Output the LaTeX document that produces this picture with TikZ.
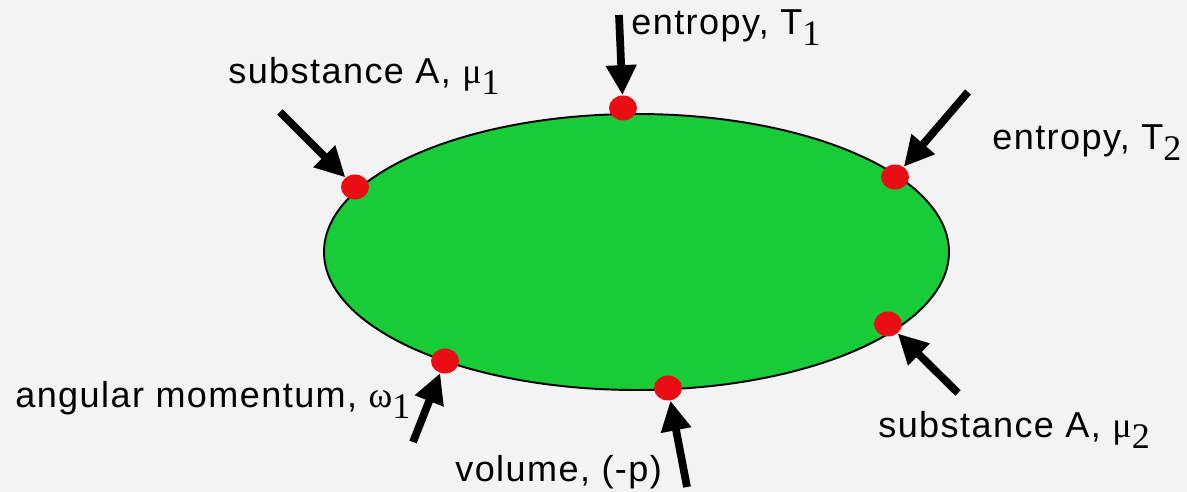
\documentclass[tikz,border=0pt]{standalone}
\usepackage{amsmath}
\usepackage[no-math]{fontspec}
\newfontfamily\labelfont[LetterSpace=4]{Liberation Sans}
\newfontfamily\greekfont{Liberation Serif}
\usepackage{tikz}
\usetikzlibrary{arrows.meta,shapes.geometric}
\definecolor{bgrey}{RGB}{243,243,243}
\definecolor{bodygreen}{RGB}{24,204,56}
\definecolor{portred}{RGB}{234,14,20}
\newcommand\lowidx[1]{\raisebox{-6pt}{\greekfont #1}}
\tikzset{
  body/.style      = {draw=black, line width=1.1pt, fill=bodygreen},
  port/.style      = {ellipse, fill=portred, inner sep=0pt,
                      minimum width=0.56cm, minimum height=0.5cm},
  flow/.style      = {-{Triangle[length=0.6cm,width=0.58cm]}, line width=4.4pt},
  plabel/.style    = {anchor=base west, inner sep=0pt,
                      font=\labelfont\fontsize{20.5}{24}\selectfont},
}

\begin{document}
\begin{tikzpicture}[x=0.02cm, y=-0.02cm]
  \fill[bgrey] (0,0) rectangle (1187,492);
  \useasboundingbox (0,0) rectangle (1187,492);

  % the system
  \draw[body] (636.5,252) ellipse [x radius=312.5, y radius=138];

  % contact points
  \node[port] (subA1) at (355,187) {};
  \node[port] (entT1) at (623,108) {};
  \node[port] (entT2) at (895,177) {};
  \node[port] (subA2) at (888,324) {};
  \node[port] (vol)   at (668,388) {};
  \node[port] (ang)   at (445,361) {};

  % tails of the currents
  \coordinate (subA1in) at (280,112);
  \coordinate (entT1in) at (619,15);
  \coordinate (entT2in) at (968,92);
  \coordinate (subA2in) at (958,393);
  \coordinate (volin)   at (687,487);
  \coordinate (angin)   at (413,442);

  \draw[flow] (subA1in) -- (subA1);
  \draw[flow] (entT1in) -- (entT1);
  \draw[flow] (entT2in) -- (entT2);
  \draw[flow] (subA2in) -- (subA2);
  \draw[flow] (volin)   -- (vol);
  \draw[flow] (angin)   -- (ang);

  % labels
  \node[plabel] (lsubA1) at (228,84)  {substance A, {\greekfont μ}\lowidx{1}};
  \node[plabel] (lentT1) at (631,35)  {entropy, T\lowidx{1}};
  \node[plabel] (lentT2) at (992,150) {entropy, T\lowidx{2}};
  \node[plabel] (lsubA2) at (878,438) {substance A, {\greekfont μ}\lowidx{2}};
  \node[plabel] (lvol)   at (455,482) {volume, (-p)};
  \node[plabel] (lang)   at (15,408)  {angular momentum, {\greekfont ω}\lowidx{1}};
\end{tikzpicture}
\end{document}
